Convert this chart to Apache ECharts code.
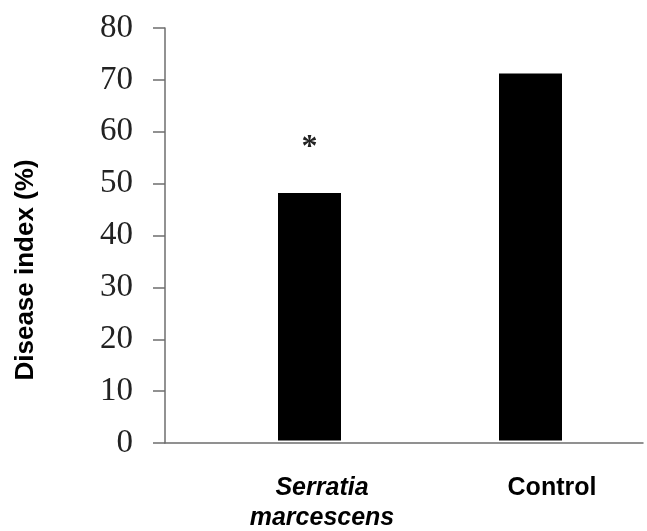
<!DOCTYPE html>
<html>
<head>
<meta charset="utf-8">
<script src="https://cdn.jsdelivr.net/npm/echarts@6/dist/echarts.min.js"></script>
<style>
  html, body { margin: 0; padding: 0; background: #fff; }
  #chart { width: 647px; height: 531px; }
</style>
</head>
<body>
<div id="chart"></div>
<script>
// Disease index per treatment
const categories = ['Serratia marcescens', 'Control'];
const diseaseIndex = [48, 71.2];
const significance = ['*', ''];
const yTicks = { min: 0, max: 80, step: 10 };

const chart = echarts.init(document.getElementById('chart'), null, { renderer: 'canvas' });

const axisGray = '#6e6e6e';

const barData = diseaseIndex.map((v, i) => ({
  value: v,
  label: {
    show: significance[i] !== '',
    position: 'top',
    formatter: significance[i],
    distance: 29,
    fontFamily: 'Liberation Serif',
    fontSize: 32,
    fontWeight: 'bold',
    color: '#222'
  }
}));

const labelFont = { fontFamily: 'Liberation Sans', fontSize: 25, fontWeight: 'bold', color: '#000', lineHeight: 30 };

chart.setOption({
  animation: false,
  backgroundColor: '#fff',
  grid: [
    { left: 165, right: 4, top: 28, bottom: 88 },
    { left: 199, right: 6, top: 28, bottom: 88 }
  ],
  xAxis: [
    {
      gridIndex: 0, type: 'value', min: 0, max: 1,
      axisLine: { show: true, lineStyle: { color: axisGray, width: 1.5 } },
      axisTick: { show: false }, axisLabel: { show: false }, splitLine: { show: false }
    },
    {
      gridIndex: 1, type: 'category', data: categories,
      axisLine: { show: false }, axisTick: { show: false },
      axisLabel: {
        margin: 33,
        interval: 0,
        formatter: (v) => v === 'Serratia marcescens'
          ? '{it|Serratia}\n{it|marcescens}'
          : '{b|' + v + '}',
        rich: {
          it: Object.assign({ fontStyle: 'italic', padding: [0, 0, 0, 25] }, labelFont),
          b: Object.assign({ padding: [0, 0, 0, 43] }, labelFont)
        }
      }
    }
  ],
  yAxis: [
    {
      gridIndex: 0, type: 'value',
      min: yTicks.min, max: yTicks.max, interval: yTicks.step,
      axisLine: { show: true, lineStyle: { color: axisGray, width: 1.5 } },
      axisTick: { show: true, inside: false, length: 12, lineStyle: { color: axisGray, width: 1.5 } },
      axisLabel: { margin: 32, fontFamily: 'Liberation Serif', fontSize: 33, color: '#222' },
      splitLine: { show: false }
    },
    {
      gridIndex: 1, type: 'value',
      min: yTicks.min, max: yTicks.max, interval: yTicks.step,
      show: false, splitLine: { show: false }
    }
  ],
  graphic: [
    {
      type: 'text',
      x: 26, y: 270,
      rotation: Math.PI / 2,
      style: {
        text: 'Disease index (%)',
        fontFamily: 'Liberation Sans',
        fontSize: 26,
        fontWeight: 'bold',
        fill: '#000',
        textAlign: 'center',
        textVerticalAlign: 'middle'
      }
    }
  ],
  series: [
    {
      type: 'bar',
      xAxisIndex: 1, yAxisIndex: 1,
      data: barData,
      barWidth: 63,
      itemStyle: { color: '#000' }
    }
  ]
});
</script>
</body>
</html>
